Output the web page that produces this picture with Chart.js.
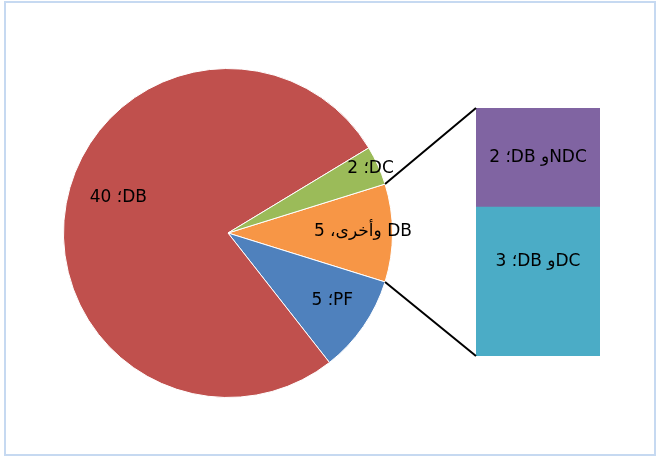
<!DOCTYPE html>
<html>
<head>
<meta charset="utf-8">
<script src="https://cdn.jsdelivr.net/npm/chart.js@4"></script>
<style>
  body { margin: 0; background: #fff; }
  #wrap { position: relative; width: 657px; height: 460px; }
  #wrap canvas { position: absolute; left: 0; top: 0; }
  #frame { position: absolute; left: 4px; top: 1px; width: 652px; height: 455px;
           border: 2px solid #c6d9f1; box-sizing: border-box; pointer-events: none; }
</style>
</head>
<body>
<div id="wrap">
  <canvas id="pie-canvas" width="657" height="460"></canvas>
  <canvas id="bar-canvas" width="657" height="460"></canvas>
  <div id="frame"></div>
</div>
<script>
// pie slices (clockwise, starting at the "other" slice)
const pieLabels = ["DB وأخرى، 5", "PF؛ 5", "DB؛ 40", "DC؛ 2"];
const pieValues = [5, 5, 40, 2];
const pieColors = ["#f79646", "#4f81bd", "#c0504d", "#9bbb59"];

// breakdown of the "other" slice, bottom to top
const barLabels = ["DCو DB؛ 3", "NDCو DB؛ 2"];
const barValues = [3, 2];
const barColors = ["#4bacc6", "#8064a2"];

const labelFont = "17px 'DejaVu Sans', sans-serif";

const total = pieValues.reduce((a, b) => a + b, 0);
// centre the first slice on the right side
const rotation = 90 - (pieValues[0] / total * 360) / 2;

// label distance from centre, as a share of the radius
const labelRadius = [0.82, 0.755, 0.70, 0.95];
const labelTurn = [-0.01, -0.03, 0.13, 0];

const drawText = (ctx, text, x, y) => {
  ctx.save();
  ctx.font = labelFont;
  ctx.fillStyle = "#000";
  ctx.direction = "rtl";
  ctx.textAlign = "center";
  ctx.textBaseline = "middle";
  ctx.fillText(text, x, y);
  ctx.restore();
}

const pieLabelPlugin = {
  id: "pieLabels",
  afterDatasetsDraw(chart) {
    const ctx = chart.ctx;
    chart.getDatasetMeta(0).data.forEach((arc, i) => {
      const mid = (arc.startAngle + arc.endAngle) / 2 + labelTurn[i];
      const r = arc.outerRadius * labelRadius[i];
      drawText(ctx, pieLabels[i], arc.x + Math.cos(mid) * r, arc.y + Math.sin(mid) * r);
    });
  }
};

const pieChart = new Chart(document.getElementById("pie-canvas"), {
  type: "pie",
  data: {
    labels: pieLabels,
    datasets: [{
      data: pieValues,
      backgroundColor: pieColors,
      borderColor: "#fff",
      borderWidth: 1
    }]
  },
  options: {
    responsive: false,
    animation: false,
    rotation: rotation,
    layout: { padding: { left: 63, right: 264, top: 68, bottom: 62 } },
    plugins: { legend: { display: false }, tooltip: { enabled: false } }
  },
  plugins: [pieLabelPlugin]
});

const barLabelShift = [-20, 0];

const barPlugin = {
  id: "barExtras",
  afterDatasetsDraw(chart) {
    const ctx = chart.ctx;
    // connector lines from the "other" slice to the bar
    const arc = pieChart.getDatasetMeta(0).data[0];
    const bottom = chart.getDatasetMeta(0).data[0];
    const top = chart.getDatasetMeta(barValues.length - 1).data[0];
    const left = bottom.x - bottom.width / 2;
    ctx.save();
    ctx.strokeStyle = "#000";
    ctx.lineWidth = 2;
    ctx.beginPath();
    ctx.moveTo(arc.x + Math.cos(arc.startAngle) * arc.outerRadius, arc.y + Math.sin(arc.startAngle) * arc.outerRadius);
    ctx.lineTo(left, top.y);
    ctx.moveTo(arc.x + Math.cos(arc.endAngle) * arc.outerRadius, arc.y + Math.sin(arc.endAngle) * arc.outerRadius);
    ctx.lineTo(left, bottom.base);
    ctx.stroke();
    ctx.restore();

    barValues.forEach((v, i) => {
      const el = chart.getDatasetMeta(i).data[0];
      drawText(ctx, barLabels[i], el.x, (el.y + el.base) / 2 + barLabelShift[i]);
    });
  }
};

new Chart(document.getElementById("bar-canvas"), {
  type: "bar",
  data: {
    labels: [""],
    datasets: barValues.map((v, i) => ({
      data: [v],
      backgroundColor: barColors[i],
      borderWidth: 0,
      barPercentage: 1,
      categoryPercentage: 1
    }))
  },
  options: {
    responsive: false,
    animation: false,
    layout: { padding: { left: 476, right: 57, top: 108, bottom: 104 } },
    scales: {
      x: { stacked: true, display: false },
      y: { stacked: true, display: false, min: 0, max: 5 }
    },
    plugins: { legend: { display: false }, tooltip: { enabled: false } }
  },
  plugins: [barPlugin]
});
</script>
</body>
</html>
